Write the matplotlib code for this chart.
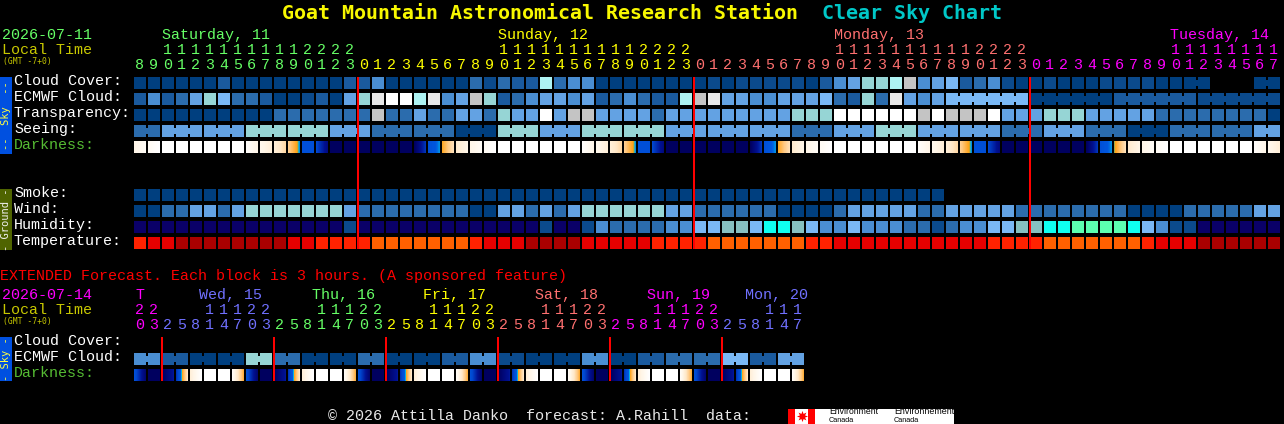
import numpy as np
import matplotlib
matplotlib.use('Agg')
import matplotlib.pyplot as plt
from matplotlib.colors import LinearSegmentedColormap
from matplotlib.patches import Rectangle

# colour levels used by all rows
palette = ['#003f7f', '#0b4a8c', '#1a5a9e', '#2b6cad', '#4a8ed2', '#63a2e3',
           '#7ab8f5', '#96d5d5', '#aef3f3', '#c4c4c4', '#e8e8e8', '#ffffff',
           '#0a0068', '#86c0c0', '#0ffff0', '#5cffb0',
           '#ff2200', '#e60000', '#aa0000', '#ff6000']

main_hours = [8, 9, 10, 11, 12, 13, 14, 15, 16, 17, 18, 19, 20, 21, 22, 23,
              0, 1, 2, 3, 4, 5, 6, 7, 8, 9, 10, 11, 12, 13, 14, 15, 16, 17, 18, 19, 20, 21, 22, 23,
              0, 1, 2, 3, 4, 5, 6, 7, 8, 9, 10, 11, 12, 13, 14, 15, 16, 17, 18, 19, 20, 21, 22, 23,
              0, 1, 2, 3, 4, 5, 6, 7, 8, 9, 10, 11, 12, 13, 14, 15, 16, 17]
main_days = ['Saturday, 11', 'Sunday, 12', 'Monday, 13', 'Tuesday, 14']
main_day_blocks = [16, 24, 24, 18]
main_day_colors = ['#66ff66', '#ffff00', '#ff7070', '#ff00ff']

ext_hours = [20, 23,
             2, 5, 8, 11, 14, 17, 20, 23,
             2, 5, 8, 11, 14, 17, 20, 23,
             2, 5, 8, 11, 14, 17, 20, 23,
             2, 5, 8, 11, 14, 17, 20, 23,
             2, 5, 8, 11, 14, 17, 20, 23,
             2, 5, 8, 11, 14, 17]
ext_days = ['T', 'Wed, 15', 'Thu, 16', 'Fri, 17', 'Sat, 18', 'Sun, 19', 'Mon, 20']
ext_day_blocks = [2, 8, 8, 8, 8, 8, 6]
ext_day_colors = ['#ff00ff', '#7070ff', '#66ff66', '#ffff00', '#ff7070', '#ff00ff', '#7070ff']

# None means no forecast for that block, spans are blocks joined together
cloud_cover = [0, 0, 0, 0, 0, 0, 2, 0, 0, 0, 0, 0, 0, 0, 0, 2,
               2, 4, 0, 0, 0, 0, 0, 0, 3, 1, 3, 2, 2, 8, 3, 4, 4, 0, 0, 0, 0, 0, 0, 0,
               0, 1, 0, 1, 1, 1, 1, 1, 0, 2, 4, 5, 7, 7, 8, 9, 4, 5, 6, 2, 3, 4, 1, 0,
               0, 1, 0, 0, 0, 1, 1, 1, 1, 0, 0, 0, None, None, None, 0]
cloud_cover_spans = [1] * 75 + [2] + [1] * 3 + [2]

ecmwf_cloud = [2, 4, 2, 3, 5, 7, 6, 3, 3, 2, 0, 0, 1, 2, 0, 5,
               7, 10, 11, 11, 8, 10, 4, 5, 9, 7, 2, 3, 4, 5, 5, 4, 5, 2, 3, 4, 3, 2, 2, 8,
               9, 10, 5, 5, 4, 4, 5, 5, 5, 6, 3, 2, 7, 3, 10, 5, 4, 5,
               6, 0, 2, 1]
ecmwf_cloud_spans = [1] * 58 + [6, 6, 6, 6]

transparency = [0, 0, 0, 0, 0, 0, 0, 0, 0, 0, 3, 3, 3, 3, 3, 3,
                3, 9, 3, 3, 5, 3, 3, 5, 5, 3, 7, 5, 5, 11, 5, 9, 9, 5, 5, 5, 5, 3, 5, 5,
                5, 5, 5, 5, 5, 5, 5, 7, 7, 7, 11, 11, 11, 11, 11, 11, 9, 11, 9, 9, 9, 11, 5, 5,
                5, 7, 7, 7, 5, 5, 5, 5, 5, 3, 3, 3, 3, 3, 3, 3, 3, 0]

seeing = [3, 5, 5, 7, 7, 5, 3, 3, 0, 7, 5, 7, 7, 5, 5, 5, 3, 5, 7, 5, 5, 3, 5, 3, 0, 3, 3, 5]
seeing_spans = [2] + [3] * 26 + [2]

# darkness scale: 0 is full daylight, 1 is deepest night, each block fades start -> end
darkness_start = [.10, .05, 0, 0, 0, 0, 0, 0, .02, .08, .15, .28, .5, .55, .85, .85,
                  .85, .85, .85, .85, .85, .5, .38, .18,
                  .10, .05, 0, 0, 0, 0, 0, 0, .02, .08, .15, .28, .5, .55, .85, .85,
                  .85, .85, .85, .85, .85, .5, .38, .18,
                  .10, .05, 0, 0, 0, 0, 0, 0, .02, .08, .15, .28, .5, .55, .85, .85,
                  .85, .85, .85, .85, .85, .5, .41, .18,
                  .10, .05, 0, 0, 0, 0, 0, 0, .02, .08]
darkness_end = [.04, 0, 0, 0, 0, 0, 0, 0, .1, .15, .25, .43, .5, .75, .85, .85,
                .85, .85, .85, .85, .6, .43, .22, .1,
                .04, 0, 0, 0, 0, 0, 0, 0, .1, .15, .25, .43, .5, .75, .85, .85,
                .85, .85, .85, .85, .6, .43, .22, .1,
                .04, 0, 0, 0, 0, 0, 0, 0, .1, .15, .25, .43, .5, .75, .85, .85,
                .85, .85, .85, .85, .6, .43, .22, .1,
                .04, 0, 0, 0, 0, 0, 0, 0, .1, .15]

smoke = [0] * 58

wind = [0, 0, 3, 3, 5, 5, 3, 5, 7, 7, 7, 7, 7, 7, 7, 5,
        3, 3, 3, 3, 3, 3, 3, 3, 0, 0, 5, 5, 3, 5, 3, 5, 7, 7, 7, 7, 7, 7, 5, 5,
        3, 3, 3, 3, 3, 3, 0, 0, 0, 0, 3, 5, 5, 5, 5, 5, 3, 3, 5, 5, 5, 5, 5, 3,
        3, 3, 3, 3, 3, 3, 3, 0, 0, 0, 0, 3, 3, 3, 3, 3, 5, 5]

humidity = [12, 12, 12, 12, 12, 12, 12, 12, 12, 12, 12, 12, 12, 12, 12, 1,
            12, 12, 12, 12, 12, 12, 12, 12, 12, 12, 12, 12, 12, 1, 12, 12, 1, 4, 3, 3, 3, 3, 4, 4,
            6, 6, 13, 13, 6, 14, 14, 13, 6, 4, 4, 6, 4, 4, 4, 3, 3, 1, 3, 4, 4, 6, 6, 13,
            13, 14, 14, 15, 15, 15, 15, 14, 6, 4, 1, 1, 12, 12, 12, 12, 12, 12]

temperature = [16, 17, 17, 18, 18, 18, 18, 18, 18, 18, 18, 17, 17, 16, 16, 16,
               16, 19, 19, 19, 19, 19, 19, 19, 16, 17, 17, 17, 18, 18, 18, 18, 17, 17, 17, 17, 17, 16, 16, 16,
               16, 19, 19, 19, 19, 19, 19, 19, 16, 16, 17, 17, 17, 17, 17, 17, 17, 17, 17, 17, 17, 16, 16, 16,
               16, 19, 19, 19, 19, 19, 19, 19, 16, 17, 17, 17, 18, 18, 18, 18, 18, 18]

ext_ecmwf = [4, 2, 0, 0, 7, 3, 0, 0, 3, 0, 0, 2, 4, 1, 0, 0, 4, 0, 2, 3, 3, 6, 2, 5]
ext_ecmwf_spans = [2] * 24

ext_darkness_start = [.5, .85, .85, .6, .15, 0, 0, .04,
                      .5, .85, .85, .6, .15, 0, 0, .04,
                      .5, .85, .85, .6, .15, 0, 0, .04,
                      .5, .85, .85, .6, .15, 0, 0, .04,
                      .5, .85, .85, .6, .15, 0, 0, .04,
                      .5, .85, .85, .6, .15, 0, 0, .04]
ext_darkness_end = [.8, .85, .68, .2, 0, 0, 0, .36,
                    .8, .85, .68, .2, 0, 0, 0, .36,
                    .8, .85, .68, .2, 0, 0, 0, .36,
                    .8, .85, .68, .2, 0, 0, 0, .36,
                    .8, .85, .68, .2, 0, 0, 0, .36,
                    .8, .85, .68, .2, 0, 0, 0, .36]

main_midnights = [16, 40, 64]
ext_midnights = [2, 10, 18, 26, 34, 42]

darkness_cmap = LinearSegmentedColormap.from_list('darkness', [
    (0, '#ffffff'), (.1, '#fff6e8'), (.2, '#ffe8c8'), (.3, '#ffc880'), (.4, '#ffa010'),
    (.41, '#80b060'), (.42, '#00b0e8'), (.45, '#0058e0'), (.55, '#0048d0'),
    (.7, '#001090'), (.85, '#000060'), (1, '#000048')])

X0 = 134
PITCH = 14
SIZE = 12
BODY = ['Liberation Mono', 'DejaVu Sans Mono']
BODY_PT = 10.8

fig = plt.figure(figsize=(12.84, 4.24), dpi=100, facecolor='black')
ax = fig.add_axes([0, 0, 1, 1])
ax.set_facecolor('black')
ax.axis('off')


def txt(x, y, s, color='white', size=BODY_PT, **kw):
    kw.setdefault('va', 'baseline')
    kw.setdefault('family', BODY)
    ax.text(x, y, s, color=color, fontsize=size, **kw)


def rect(x, y, w, h, color, zorder=2):
    ax.add_patch(Rectangle((x, y), w, h, facecolor=color, edgecolor='none',
                           antialiased=False, zorder=zorder))


def draw_row(y, values, spans=None):
    if spans is None:
        spans = [1] * len(values)
    i = 0
    for val, span in zip(values, spans):
        if val is not None:
            for k in range(span):
                rect(X0 + (i + k) * PITCH, y, SIZE, SIZE, palette[val])
                if k < span - 1:
                    # narrow bridge between joined blocks
                    rect(X0 + (i + k) * PITCH + SIZE, y + 3, PITCH - SIZE, 6, palette[val])
        i += span


def draw_darkness(y, start, end):
    for i, (a, b) in enumerate(zip(start, end)):
        x = X0 + i * PITCH
        ax.imshow(np.linspace(a, b, SIZE)[None, :], cmap=darkness_cmap, vmin=0, vmax=1,
                  extent=(x, x + SIZE, y + SIZE, y), aspect='auto',
                  interpolation='nearest', zorder=2)


def draw_hours(hours, blocks, colors, tens_y, unit_y):
    i = 0
    for n, col in zip(blocks, colors):
        for h in hours[i:i + n]:
            xc = X0 + i * PITCH + 5.5
            if h >= 10:
                txt(xc, tens_y, str(h)[0], col, ha='center')
            txt(xc, unit_y, str(h % 10), col, ha='center')
            i += 1


def side_bar(y0, y1, color, label, tcol):
    rect(0, y0, 12, y1 - y0, color)
    txt(6, (y0 + y1) / 2, label, tcol, size=7.5, rotation=90, ha='center', va='center',
        zorder=3, family='DejaVu Sans Mono')


# title
txt(282, 19, 'Goat Mountain Astronomical Research Station', '#f8f800', size=14.4,
    family='DejaVu Sans Mono', weight='bold')
txt(822, 19, 'Clear Sky Chart', '#00c8c8', size=14.4, family='DejaVu Sans Mono', weight='bold')

# main header
txt(2, 39, '2026-07-11', '#66ff66')
txt(2, 54, 'Local Time', '#c8c800')
txt(3, 64, '(GMT -7+0)', '#c8c800', size=5.8, family='DejaVu Sans Mono')
for day, x, col in zip(main_days, [162, 498, 834, 1170], main_day_colors):
    txt(x, 39, day, col)
draw_hours(main_hours, main_day_blocks, main_day_colors, 54, 69)

# sky and ground labels
for y, label, col in zip([85, 101, 117, 133, 149],
                         ['Cloud Cover:', 'ECMWF Cloud:', 'Transparency:', 'Seeing:', 'Darkness:'],
                         ['white', 'white', 'white', 'white', '#55bb33']):
    txt(14, y, label, col)
for y, label in zip([197, 213, 229, 245], ['Smoke:', 'Wind:', 'Humidity:', 'Temperature:']):
    txt(14, y, label)

side_bar(77, 154, '#0050e0', '--  Sky  --', '#ffff40')
side_bar(189, 250, '#4f6400', '- Ground -', '#f0f0f0')

draw_row(77, cloud_cover, cloud_cover_spans)
draw_row(93, ecmwf_cloud, ecmwf_cloud_spans)
draw_row(109, transparency)
draw_row(125, seeing, seeing_spans)
draw_darkness(141, darkness_start, darkness_end)
draw_row(189, smoke)
draw_row(205, wind)
draw_row(221, humidity)
draw_row(237, temperature)

for i in main_midnights:
    rect(X0 + i * PITCH - 1, 77, 2, 172, '#ff0000', zorder=4)

# extended forecast
txt(0, 280, 'EXTENDED Forecast. Each block is 3 hours. (A sponsored feature)', '#ff0000')
txt(2, 299, '2026-07-14', '#ff00ff')
txt(2, 314, 'Local Time', '#c8c800')
txt(3, 324, '(GMT -7+0)', '#c8c800', size=5.8, family='DejaVu Sans Mono')
for day, x, col in zip(ext_days, [135, 199, 312, 423, 535, 647, 745], ext_day_colors):
    txt(x, 299, day, col)
draw_hours(ext_hours, ext_day_blocks, ext_day_colors, 314, 329)

for y, label, col in zip([345, 361, 377], ['Cloud Cover:', 'ECMWF Cloud:', 'Darkness:'],
                         ['white', 'white', '#55bb33']):
    txt(14, y, label, col)
side_bar(337, 381, '#0050e0', '- Sky -', '#ffff40')

draw_row(353, ext_ecmwf, ext_ecmwf_spans)
draw_darkness(369, ext_darkness_start, ext_darkness_end)
for i in ext_midnights:
    rect(X0 + i * PITCH - 1, 337, 2, 44, '#ff0000', zorder=4)

# footer
txt(328, 420, '\u00a9 2026 Attilla Danko  forecast: A.Rahill  data:', '#e8e8e8')
rect(788, 409, 166, 15, 'white')
rect(788, 409, 7, 15, '#ff0000', zorder=3)
rect(808, 409, 7, 15, '#ff0000', zorder=3)
ax.plot([801.5], [416], marker=(8, 1, 0), color='#ff0000', markersize=8, mew=0, zorder=3)
for x, words, fs in zip([829, 894], [('Environment', 'Canada'), ('Environnement', 'Canada')], [6.2, 6.4]):
    txt(x, 414, words[0], 'black', size=fs, family='Liberation Sans')
    txt(x, 422, words[1], 'black', size=5.2, family='Liberation Sans')

ax.set_xlim(0, 1284)
ax.set_ylim(424, 0)
fig.savefig('out.png', dpi=100, facecolor='black')
